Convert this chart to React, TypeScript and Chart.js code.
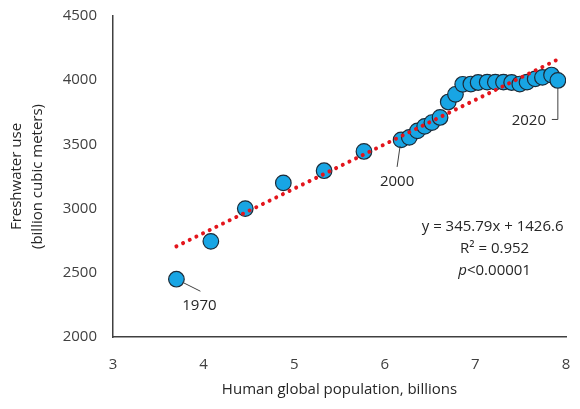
import { useEffect, useRef } from 'react';
import { Chart, registerables, Plugin } from 'chart.js';

Chart.register(...registerables);

// yearly points from 2000, five-year steps before that
const years = [
  1970, 1975, 1980, 1985, 1990, 1995,
  2000, 2001, 2002, 2003, 2004, 2005, 2006, 2007, 2008, 2009, 2010,
  2011, 2012, 2013, 2014, 2015, 2016, 2017, 2018, 2019, 2020,
];
const population = [
  3.70, 4.08, 4.46, 4.88, 5.33, 5.77,
  6.18, 6.27, 6.36, 6.44, 6.52, 6.61, 6.70, 6.78, 6.86, 6.95, 7.03,
  7.13, 7.22, 7.31, 7.40, 7.49, 7.57, 7.66, 7.74, 7.84, 7.91,
];
const freshwater = [
  2450, 2745, 3000, 3200, 3295, 3445,
  3535, 3555, 3605, 3640, 3670, 3710, 3830, 3890, 3968, 3970, 3982,
  3985, 3985, 3985, 3982, 3970, 3985, 4010, 4022, 4040, 3998,
];
const slope = 345.79;
const intercept = 1426.6;
const r2 = 0.952;
const equationLines = ['y = 345.79x + 1426.6', 'R\u00b2 = 0.952', 'p<0.00001'];

const FONT = '"Open Sans", sans-serif';
const TEXT = '#262626';

const xMin = Math.min(...population);
const xMax = Math.max(...population);
const trend = [
  { x: xMin, y: slope * xMin + intercept },
  { x: xMax, y: slope * xMax + intercept },
];

const annotations: Plugin<'scatter'> = {
  id: 'annotations',
  afterDatasetsDraw(chart) {
    const { ctx, scales } = chart;
    const x = scales.x;
    const y = scales.y;
    const at = (i: number) => ({
      px: x.getPixelForValue(population[i]),
      py: y.getPixelForValue(freshwater[i]),
    });
    ctx.save();
    ctx.strokeStyle = '#404040';
    ctx.lineWidth = 1;
    ctx.fillStyle = TEXT;
    ctx.font = `15px ${FONT}`;
    ctx.textAlign = 'center';
    ctx.textBaseline = 'middle';

    // 1970
    let p = at(years.indexOf(1970));
    ctx.beginPath();
    ctx.moveTo(p.px + 6, p.py + 3);
    ctx.lineTo(p.px + 24, p.py + 12);
    ctx.stroke();
    ctx.fillText('1970', p.px + 23, p.py + 27);

    // 2000
    p = at(years.indexOf(2000));
    ctx.beginPath();
    ctx.moveTo(p.px - 1, p.py + 6);
    ctx.lineTo(p.px - 4, p.py + 27);
    ctx.stroke();
    ctx.fillText('2000', p.px - 4, p.py + 42);

    // 2020
    p = at(years.indexOf(2020));
    ctx.beginPath();
    ctx.moveTo(p.px, p.py + 7);
    ctx.lineTo(p.px, p.py + 39);
    ctx.lineTo(p.px - 6, p.py + 39);
    ctx.stroke();
    ctx.fillText('2020', p.px - 29, p.py + 40);

    // regression text
    const ex = x.getPixelForValue(7.19);
    const ey = y.getPixelForValue(2857);
    ctx.fillText(equationLines[0], ex, ey);
    ctx.fillText(equationLines[1], ex + 2, ey + 22);
    const rest = equationLines[2].slice(1);
    ctx.font = `italic 15px ${FONT}`;
    const wP = ctx.measureText('p').width;
    ctx.font = `15px ${FONT}`;
    const wRest = ctx.measureText(rest).width;
    const startX = ex + 2 - (wP + wRest) / 2;
    ctx.textAlign = 'left';
    ctx.font = `italic 15px ${FONT}`;
    ctx.fillText('p', startX, ey + 44);
    ctx.font = `15px ${FONT}`;
    ctx.fillText(rest, startX + wP, ey + 44);
    ctx.restore();
  },
};

export default function App() {
  const canvasRef = useRef<HTMLCanvasElement>(null);

  useEffect(() => {
    if (!canvasRef.current) return;
    const chart = new Chart(canvasRef.current, {
      type: 'scatter',
      data: {
        datasets: [
          {
            label: 'Freshwater use',
            data: population.map((p, i) => ({ x: p, y: freshwater[i] })),
            backgroundColor: '#18A5E4',
            borderColor: '#1c2b38',
            borderWidth: 1.2,
            pointRadius: 7.8,
            order: 2,
          },
          {
            type: 'line',
            label: `Trend (R² = ${r2})`,
            data: trend,
            borderColor: '#E3151C',
            borderWidth: 4,
            borderDash: [0.01, 7.4],
            borderCapStyle: 'round',
            pointRadius: 0,
            fill: false,
            order: 1,
          } as any,
        ],
      },
      options: {
        responsive: false,
        animation: false,
        layout: { padding: { left: 0, right: 14, top: 16, bottom: 0 } },
        plugins: {
          legend: { display: false },
          tooltip: { enabled: false },
        },
        scales: {
          x: {
            type: 'linear',
            min: 3,
            max: 8,
            grid: { display: false, drawTicks: false },
            border: { display: true, color: '#404040', width: 1.5 },
            ticks: {
              stepSize: 1,
              padding: 19,
              color: '#404040',
              font: { family: FONT, size: 15 },
              callback: (v) => String(v),
            },
            title: {
              display: true,
              text: 'Human global population, billions',
              color: TEXT,
              font: { family: FONT, size: 15, lineHeight: 1.4 },
              padding: { top: 0, bottom: 8.5 },
            },
            afterFit: (scale: any) => {
              scale.height = 72;
              scale.paddingLeft = 0;
              scale.paddingRight = 0;
            },
          },
          y: {
            min: 2000,
            max: 4500,
            grid: { display: false, drawTicks: false },
            border: { display: true, color: '#404040', width: 1.5 },
            ticks: {
              stepSize: 500,
              padding: 16,
              color: '#404040',
              font: { family: FONT, size: 15 },
              callback: (v) => String(v),
            },
            title: {
              display: true,
              text: ['Freshwater use', '(billion cubic meters)'],
              color: TEXT,
              font: { family: FONT, size: 15, lineHeight: 1.4 },
              padding: { top: 6.5, bottom: 0 },
            },
            afterFit: (scale: any) => {
              scale.width = 113;
              scale.paddingTop = 0;
              scale.paddingBottom = 0;
            },
          },
        },
      },
      plugins: [annotations],
    });
    return () => chart.destroy();
  }, []);

  return (
    <div style={{ position: 'absolute', left: 0, top: 0, width: 580, height: 409, background: '#fff' }}>
      <canvas ref={canvasRef} width={580} height={409} />
    </div>
  );
}
